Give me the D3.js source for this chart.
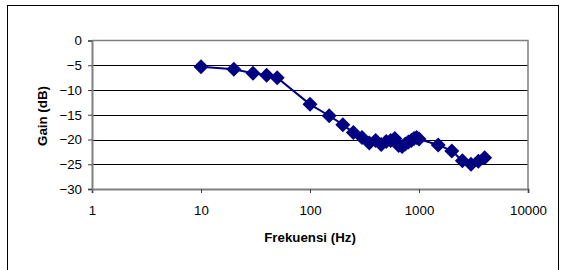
<!DOCTYPE html>
<html>
  <head>
    <meta charset="utf-8">
    <style type="text/css">
      body { margin: 0; background: #fff; overflow: hidden; }
      text { font-family: "Liberation Sans", Arial, sans-serif; }
    </style>
    <script src="https://d3js.org/d3.v7.min.js"></script>
  </head>
  <body>
    <svg width="565" height="270"></svg>
    <script>
      // measured gain per frequency
      const freq = [10, 20, 30, 40, 50, 100, 150, 200, 250, 300, 350, 400, 450, 500, 550, 600,
                    650, 700, 750, 800, 850, 900, 950, 1000, 1500, 2000, 2500, 3000, 3500, 4000];
      const gain = [-5.3, -5.8, -6.6, -7.0, -7.5, -12.9, -15.2, -17.0, -18.6, -19.6, -20.7, -20.2,
                    -21.0, -20.4, -20.2, -19.8, -21.2, -21.4, -20.9, -20.5, -20.2, -19.8, -19.6, -19.9,
                    -21.1, -22.3, -24.3, -25.0, -24.4, -23.7];
      const xTicks = [1, 10, 100, 1000, 10000];
      const yTicks = [0, -5, -10, -15, -20, -25, -30];

      const data = freq.map((f, i) => ({ f: f, g: gain[i] }));

      const svg = d3.select('svg');
      const plotL = 92, plotR = 528, plotT = 40.5, plotB = 189;

      const x = d3.scaleLog().domain([1, 10000]).range([plotL, plotR]);
      const y = d3.scaleLinear().domain([-30, 0]).range([plotB, plotT]);

      // outer frame
      svg.append('rect')
        .attr('x', 7.5).attr('y', 5.5)
        .attr('width', 551).attr('height', 280)
        .attr('fill', 'none').attr('stroke', '#000').attr('stroke-width', 1);

      // gridlines
      svg.append('g').selectAll('line')
        .data(yTicks.filter(t => t > -30 && t < 0))
        .enter().append('line')
          .attr('x1', plotL).attr('x2', plotR)
          .attr('y1', d => Math.round(y(d)) + 0.5).attr('y2', d => Math.round(y(d)) + 0.5)
          .attr('stroke', '#000').attr('stroke-width', 1);

      // plot border top/right
      svg.append('path')
        .attr('d', `M${plotL},${plotT}H${plotR}V${plotB}`)
        .attr('fill', 'none').attr('stroke', '#808080').attr('stroke-width', 1.5);

      const xAxis = svg.append('g')
        .attr('transform', `translate(0,${plotB})`)
        .call(d3.axisBottom(x).tickValues(xTicks).tickFormat(d3.format('d')).tickSize(4).tickPadding(13));
      const yAxis = svg.append('g')
        .attr('transform', `translate(${plotL},0)`)
        .call(d3.axisLeft(y).tickValues(yTicks).tickSize(4).tickPadding(6));

      [xAxis, yAxis].forEach(a => {
        a.select('.domain').attr('stroke', '#808080').attr('stroke-width', 2);
        a.selectAll('.tick line').attr('stroke', '#404040');
        a.selectAll('text').attr('fill', '#000').style('font-size', '13.3px')
          .style('font-family', '"Liberation Sans", Arial, sans-serif');
      });

      // series
      svg.append('path')
        .datum(data)
        .attr('fill', 'none')
        .attr('stroke', '#000080')
        .attr('stroke-width', 2)
        .attr('d', d3.line().x(d => x(d.f)).y(d => y(d.g)));

      const diamond = 'M0,-7.5L7.5,0L0,7.5L-7.5,0Z';
      svg.append('g').selectAll('path')
        .data(data)
        .enter().append('path')
          .attr('d', diamond)
          .attr('transform', d => `translate(${x(d.f)},${y(d.g)})`)
          .attr('fill', '#000080');

      // axis titles
      svg.append('text')
        .attr('x', (plotL + plotR) / 2).attr('y', 242)
        .attr('text-anchor', 'middle')
        .style('font-size', '13.3px').style('font-weight', 'bold')
        .text('Frekuensi (Hz)');
      svg.append('text')
        .attr('transform', 'translate(47,116) rotate(-90)')
        .attr('text-anchor', 'middle')
        .style('font-size', '13.3px').style('font-weight', 'bold')
        .text('Gain (dB)');
    </script>
  </body>
</html>
